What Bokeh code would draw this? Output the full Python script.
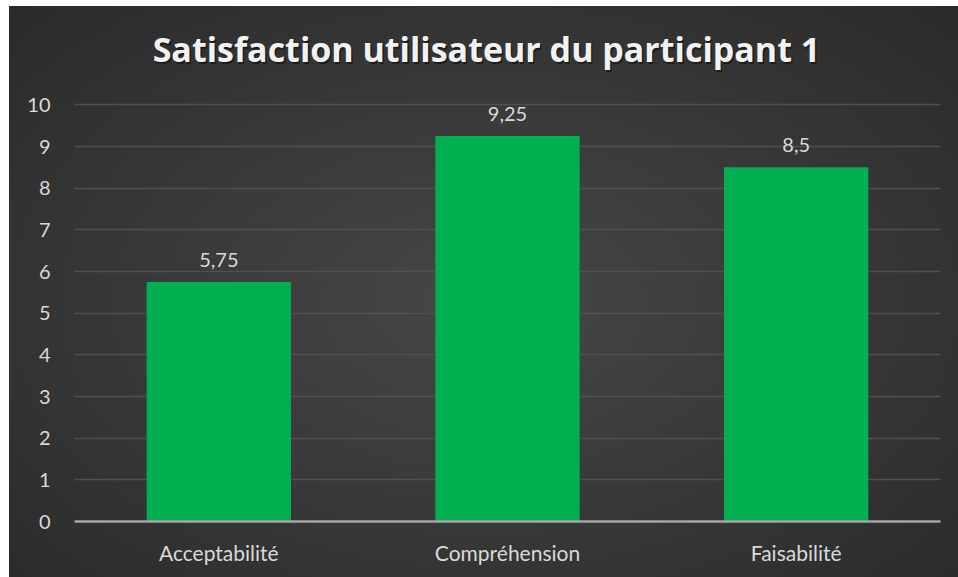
from bokeh.plotting import figure
from bokeh.models import ColumnDataSource, LabelSet, Label, FixedTicker
from bokeh.core.properties import value
from bokeh.embed import file_html
from bokeh.resources import INLINE

title_text = "Satisfaction utilisateur du participant 1"
categories = ["Acceptabilité", "Compréhension", "Faisabilité"]
scores = [5.75, 9.25, 8.5]
score_labels = [f"{v:g}".replace(".", ",") for v in scores]
y_ticks = [0, 1, 2, 3, 4, 5, 6, 7, 8, 9, 10]

FONT = "Lato"
TEXT = "#d9d9d9"

src = ColumnDataSource(dict(cat=categories, val=scores, lab=score_labels))

# the frame is extended upward so the title can sit inside it
p = figure(x_range=categories, y_range=(0, 12), width=949, height=571,
           output_backend="svg", toolbar_location=None,
           min_border_left=65, min_border_right=18, min_border_top=15, min_border_bottom=56)

p.styles = {"background": "radial-gradient(ellipse at 50% 52%, #474747 0%, #3a3a3a 45%, #2a2a2a 100%)",
            "margin-left": "9px", "margin-top": "6px"}
p.border_fill_alpha = 0
p.background_fill_alpha = 0
p.outline_line_color = None
p.title = None

p.vbar(x="cat", top="val", width=0.5, source=src, color="#00b050", line_color=None)

labels = LabelSet(x="cat", y="val", text="lab", source=src, y_offset=15,
                  text_align="center", text_baseline="bottom",
                  text_color=TEXT, text_font=value(FONT), text_font_size="20px")
p.add_layout(labels)

TX, TY = 1.427, 11.35
shadow = Label(x=TX, y=TY, text=title_text, text_align="center", text_baseline="middle",
               text_font="Open Sans", text_font_style="bold", text_font_size="34px",
               text_color="#000000", text_alpha=0.45, x_offset=1.5, y_offset=-2)
title = Label(x=TX, y=TY, text=title_text, text_align="center", text_baseline="middle",
              text_font="Open Sans", text_font_style="bold", text_font_size="34px",
              text_color="#f2f2f2")
p.add_layout(shadow)
p.add_layout(title)

p.xgrid.grid_line_color = None
p.ygrid.grid_line_color = "#505050"
p.ygrid.grid_line_width = 1.5
p.ygrid.ticker = FixedTicker(ticks=y_ticks)

p.yaxis.ticker = FixedTicker(ticks=y_ticks)
p.yaxis.axis_line_color = None
p.yaxis.major_tick_line_color = None
p.yaxis.major_tick_out = 0
p.yaxis.minor_tick_line_color = None
p.yaxis.major_label_text_color = TEXT
p.yaxis.major_label_text_font = FONT
p.yaxis.major_label_text_font_size = "20px"
p.yaxis.major_label_standoff = 24

p.xaxis.axis_line_color = "#a6a6a6"
p.xaxis.axis_line_width = 2.5
p.xaxis.major_tick_line_color = None
p.xaxis.major_tick_out = 0
p.xaxis.minor_tick_line_color = None
p.xaxis.major_label_text_color = TEXT
p.xaxis.major_label_text_font = FONT
p.xaxis.major_label_text_font_size = "21px"
p.xaxis.major_label_standoff = 18

open("out.html", "w").write(file_html(p, INLINE))
